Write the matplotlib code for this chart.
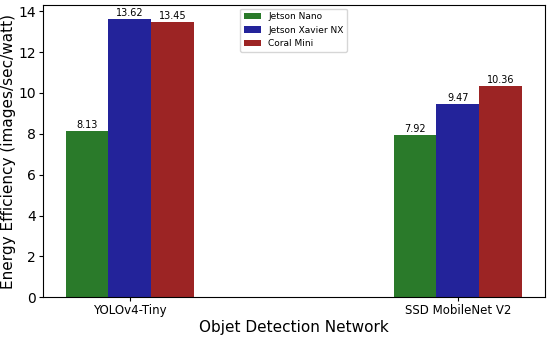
import numpy as np
import matplotlib.pyplot as plt

# data
networks = ["YOLOv4-Tiny", "SSD MobileNet V2"]
devices = ["Jetson Nano", "Jetson Xavier NX", "Coral Mini"]
nano = [8.13, 7.92]
xavier = [13.62, 9.47]
coral = [13.45, 10.36]
colors = ["#2a7a2a", "#23239a", "#9c2424"]

x = np.arange(len(networks))
w = 0.13

fig, ax = plt.subplots(figsize=(5.5, 3.37), dpi=100)
for i, (vals, name) in enumerate(zip([nano, xavier, coral], devices)):
    bars = ax.bar(x + (i - 1) * w, vals, w, color=colors[i], label=name)
    for b, v in zip(bars, vals):
        ax.text(b.get_x() + b.get_width() / 2, v + 0.05, f"{v:.2f}",
                ha="center", va="bottom", fontsize=7)

ax.set_xticks(x)
ax.set_xticklabels(networks, fontsize=8.5)
ax.tick_params(axis="y", labelsize=10, pad=2, length=3)
ax.tick_params(axis="x", pad=2, length=3)
ax.set_xlabel("Objet Detection Network", fontsize=11, labelpad=2)
ax.set_ylabel("Energy Efficiency (images/sec/watt)", fontsize=11, labelpad=2)
ax.legend(loc="upper center", fontsize=6.5, labelspacing=0.5,
          handlelength=1.9, borderaxespad=0.4)

plt.subplots_adjust(left=0.078, right=0.99, top=0.985, bottom=0.118)
plt.savefig("out.png")
